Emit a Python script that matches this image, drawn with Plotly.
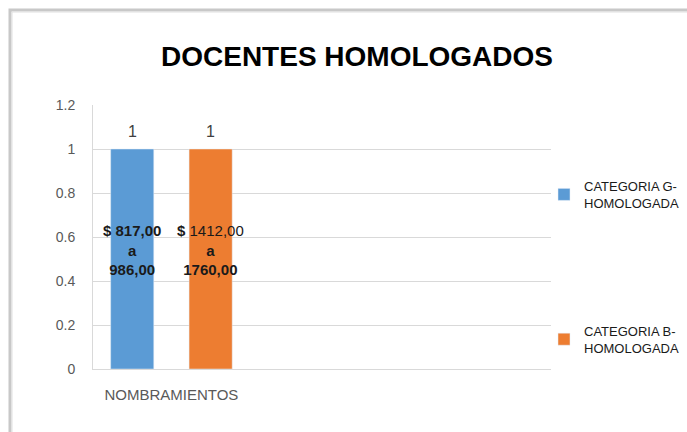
import plotly.graph_objects as go

categories = ["NOMBRAMIENTOS"]
series_names = ["CATEGORIA G-<br>HOMOLOGADA", "CATEGORIA B-<br>HOMOLOGADA"]
series_values = [[1], [1]]
range_labels = ["<b>$ 817,00<br>a<br>986,00</b>", "<b>$</b> 1412,00<br><b>a</b><br><b>1760,00</b>"]
colors = ["#5b9bd5", "#ed7d31"]
y_ticks = [0, 0.2, 0.4, 0.6, 0.8, 1, 1.2]
y_tick_text = ["0", "0.2", "0.4", "0.6", "0.8", "1", "1.2"]

FONT = "Liberation Sans"
fig = go.Figure()
for i, (name, vals) in enumerate(zip(series_names, series_values)):
    fig.add_trace(go.Bar(
        x=categories, y=vals, name=name, marker_color=colors[i],
        legendgroup=f"g{i}", cliponaxis=False,
    ))

# value labels above bars and range labels inside bars
for i in range(len(series_names)):
    shift = -39 if i == 0 else 39
    for c, v in zip(categories, series_values[i]):
        fig.add_annotation(
            x=c, y=v, xref="x", yref="y", text=str(v), showarrow=False,
            xshift=shift, yshift=18, yanchor="middle",
            font=dict(size=16, color="#404040", family=FONT),
        )
        fig.add_annotation(
            x=c, y=v * 0.54, xref="x", yref="y", text=range_labels[i],
            showarrow=False, xshift=shift,
            font=dict(size=15, color="#1a1a1a", family=FONT), align="center",
        )

L, R, T, B = 93, 136, 105, 63
W, H = 687, 432
pw, ph = W - L - R, H - T - B
def px_x(px):
    return (px - L) / pw
def px_y(py):
    return (H - B - py) / ph

# chart frame with shadow
fig.add_shape(type="rect", xref="paper", yref="paper",
              x0=px_x(10), x1=px_x(720), y0=px_y(460), y1=px_y(10),
              line=dict(color="#c8c8c8", width=3), layer="below")
fig.add_shape(type="rect", xref="paper", yref="paper",
              x0=px_x(12), x1=px_x(720), y0=px_y(460), y1=px_y(12),
              line=dict(color="#e0e0e0", width=1), fillcolor="white", layer="below")

fig.update_layout(
    width=W, height=H,
    margin=dict(l=L, r=R, t=T, b=B, autoexpand=False),
    paper_bgcolor="white", plot_bgcolor="white",
    barmode="group", bargap=0.0, bargroupgap=0.45,
    title=dict(text="<b>DOCENTES HOMOLOGADOS</b>", x=357 / W,
               xanchor="center", y=1 - 56 / H, yanchor="middle",
               font=dict(size=28, color="black", family=FONT)),
    font=dict(family=FONT),
    showlegend=True,
    legend=dict(x=px_x(544), xanchor="left", y=px_y(171), yanchor="top",
                tracegroupgap=108, traceorder="grouped",
                font=dict(size=13, color="#1a1a1a", family=FONT),
                itemwidth=30, bgcolor="rgba(0,0,0,0)"),
    xaxis=dict(type="category", range=[-0.5, 2.42], showgrid=False,
               showline=True, linecolor="#d9d9d9", linewidth=1,
               tickfont=dict(size=15, color="#595959", family=FONT),
               ticks="", ticklabelstandoff=12, fixedrange=True),
    yaxis=dict(range=[0, 1.2], tickvals=y_ticks, ticktext=y_tick_text,
               showgrid=True, gridcolor="#d9d9d9", gridwidth=1,
               showline=True, linecolor="#d9d9d9", linewidth=1,
               zeroline=False,
               tickfont=dict(size=14, color="#595959", family=FONT),
               ticks="", ticklabelstandoff=14),
)

fig.write_html("out.html", config={"displayModeBar": False},
               post_script="document.body.style.margin='0';")
